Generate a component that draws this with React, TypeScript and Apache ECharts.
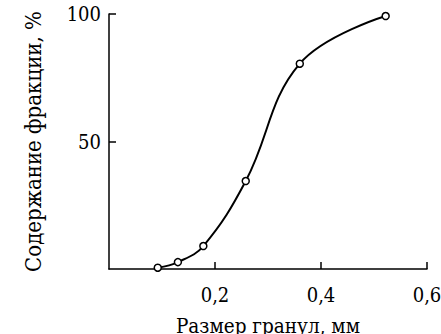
import React, { useEffect, useRef } from "react";
import * as echarts from "echarts";

const sizes = [0.092, 0.13, 0.178, 0.258, 0.36, 0.522];
const contents = [0.5, 2.7, 9, 34.5, 80.5, 99.2];
const xTicks = [0, 0.2, 0.4, 0.6];
const yTicks = [0, 50, 100];

export default function App() {
  const ref = useRef<HTMLDivElement>(null);
  useEffect(() => {
    const chart = echarts.init(ref.current!, null, { renderer: "svg" });
    const font = "DejaVu Serif Condensed";
    chart.setOption({
      animation: false,
      textStyle: { fontFamily: font },
      grid: { left: 109, right: 14, top: 14, bottom: 65, outerBoundsMode: "none", containLabel: false },
      xAxis: {
        type: "value",
        min: xTicks[0],
        max: xTicks[xTicks.length - 1],
        interval: 0.2,
        name: "Размер гранул, мм",
        nameLocation: "middle",
        nameGap: 47,
        nameMoveOverlap: false,
        nameTextStyle: { fontFamily: font, fontSize: 20.5, lineHeight: 20, color: "#000" },
        axisLine: { lineStyle: { color: "#000", width: 1.5 } },
        axisTick: { inside: true, length: 7, lineStyle: { color: "#000", width: 1.5 } },
        axisLabel: {
          showMinLabel: false,
          fontFamily: font,
          fontSize: 20,
          lineHeight: 18,
          color: "#000",
          margin: 17,
          formatter: (v: number) => v.toFixed(1).replace(".", ","),
        },
        splitLine: { show: false },
      },
      yAxis: {
        type: "value",
        min: yTicks[0],
        max: yTicks[yTicks.length - 1],
        interval: 50,
        name: "Содержание фракции, %",
        nameLocation: "middle",
        nameGap: 65,
        nameTextStyle: { fontFamily: font, fontSize: 22, color: "#000" },
        axisLine: { show: true, lineStyle: { color: "#000", width: 1.5 } },
        axisTick: { show: true, inside: true, length: 7, lineStyle: { color: "#000", width: 1.5 } },
        axisLabel: {
          showMinLabel: false,
          fontFamily: font,
          fontSize: 20,
          color: "#000",
          margin: 8,
        },
        splitLine: { show: false },
      },
      series: [
        {
          type: "line",
          data: sizes.map((s, i) => [s, contents[i]]),
          smooth: 0.4,
          symbol: "circle",
          symbolSize: 7,
          itemStyle: { color: "#fff", borderColor: "#000", borderWidth: 1.5 },
          lineStyle: { color: "#000", width: 2 },
        },
      ],
    });
    return () => chart.dispose();
  }, []);
  return (
    <div
      ref={ref}
      style={{ position: "absolute", left: 0, top: 0, width: 441, height: 334 }}
    />
  );
}
